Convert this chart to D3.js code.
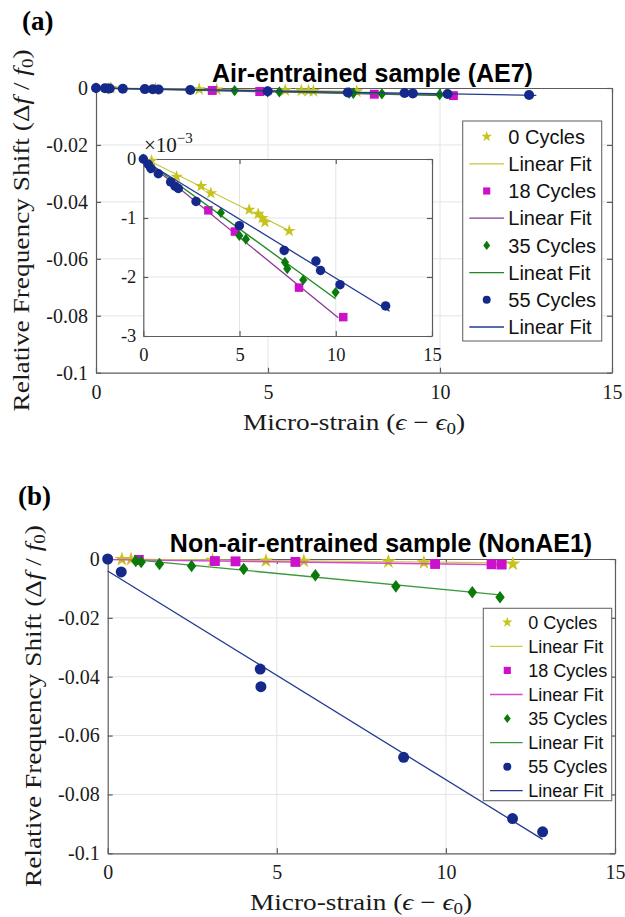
<!DOCTYPE html>
<html>
<head>
<meta charset="utf-8">
<script src="https://cdn.jsdelivr.net/npm/d3@7"></script>
<style>
  body { margin: 0; background: #fff; }
  svg { display: block; }
</style>
</head>
<body>
<svg id="fig" width="625" height="917"></svg>
<script>
// ---------- ticks ----------
const xTicks = [0, 5, 10, 15];
const yTicks = [0, -0.02, -0.04, -0.06, -0.08, -0.1];
const yTickLabels = ["0", "-0.02", "-0.04", "-0.06", "-0.08", "-0.1"];
const insetYTicks = [0, -1, -2, -3];
const insetYTickLabels = ["0", "-1", "-2", "-3"];

// ---------- (a) AE7, y values in units of 1e-3 ----------
const ae7Cyc0X  = [0.43, 1.73, 3.0, 3.51, 5.5, 5.97, 6.18, 6.32, 7.58];
const ae7Cyc0Y  = [-0.03, -0.30, -0.46, -0.58, -0.86, -0.93, -1.00, -1.07, -1.22];
const ae7Cyc18X = [3.38, 4.76, 8.09, 10.39];
const ae7Cyc18Y = [-0.87, -1.23, -2.18, -2.68];
const ae7Cyc35X = [0, 0.35, 4.03, 4.99, 5.33, 7.36, 7.48, 8.31, 9.99];
const ae7Cyc35Y = [0, -0.16, -0.91, -1.30, -1.36, -1.75, -1.86, -2.05, -2.26];
const ae7Cyc55X = [0, 0.26, 0.40, 0.78, 1.42, 1.65, 1.82, 2.74, 4.99, 7.32, 8.97, 9.21, 10.22, 12.59];
const ae7Cyc55Y = [0, -0.09, -0.16, -0.25, -0.39, -0.46, -0.50, -0.72, -1.13, -1.55, -1.73, -1.89, -2.13, -2.49];
// linear fits: [x start, x end, intercept, slope]
const ae7Fit0  = [0.1, 7.6, 0.02, -0.163];
const ae7Fit18 = [0, 10.13, 0, -0.2655];
const ae7Fit35 = [0, 9.99, 0, -0.237];
const ae7Fit55 = [0, 12.8, -0.02, -0.2];
const ae7Legend = ["0 Cycles", "Linear Fit", "18 Cycles", "Linear Fit", "35 Cycles", "Lineat Fit", "55 Cycles", "Linear Fit"];

// ---------- (b) NonAE1 ----------
const nonCyc0X  = [0.42, 0.69, 3.1, 4.68, 5.8, 8.3, 9.35, 11.98];
const nonCyc0Y  = [-0.0001, -0.0001, -0.0004, -0.0006, -0.0007, -0.0009, -0.0012, -0.0017];
const nonCyc18X = [0.92, 3.17, 3.78, 5.55, 9.68, 11.35, 11.65];
const nonCyc18Y = [-0.0003, -0.0007, -0.0008, -0.0010, -0.0017, -0.0018, -0.0019];
const nonCyc35X = [0.83, 0.99, 1.53, 2.48, 4.02, 6.14, 8.52, 10.78, 11.6];
const nonCyc35Y = [-0.0007, -0.0010, -0.0017, -0.0024, -0.0034, -0.0055, -0.0093, -0.0113, -0.0130];
const nonCyc55X = [0, 0.40, 4.51, 4.53, 8.75, 11.97, 12.86];
const nonCyc55Y = [0, -0.0044, -0.0374, -0.0434, -0.0674, -0.0882, -0.0927];
const nonFit0  = [0.42, 11.98, 0, -0.00011];
const nonFit18 = [0, 11.65, -0.0002, -0.00015];
const nonFit35 = [0.83, 11.6, 0.0006, -0.0011];
const nonFit55 = [0, 12.86, -0.0041, -0.00709];
const nonLegend = ["0 Cycles", "Linear Fit", "18 Cycles", "Linear Fit", "35 Cycles", "Linear Fit", "55 Cycles", "Linear Fit"];

const serif = "'Liberation Serif', 'Times New Roman', serif";
const sans = "'Liberation Sans', Arial, sans-serif";

const svg = d3.select("#fig");

const zip = (xs, ys) => xs.map((x, i) => ({ x: x, y: ys[i] }));

function markerPath(shape, s) {
    if (shape === "star") return d3.symbol(d3.symbolStar, s * s * 0.55)();
    if (shape === "square") return d3.symbol(d3.symbolSquare, s * s * 0.8)();
    if (shape === "diamond") {
        const w = s * 0.43, h = s * 0.57;
        return `M0,${-h}L${w},0L0,${h}L${-w},0Z`;
    }
    return d3.symbol(d3.symbolCircle, Math.PI * (s / 2) * (s / 2))();
}

function drawSeries(g, x, y, series, scaleY, size) {
    series.forEach(s => {
        const f = s.fit;
        const line = d3.line().x(d => x(d)).y(d => y((f[2] + f[3] * d) * scaleY));
        g.append("path")
            .datum([f[0], f[1]])
            .attr("fill", "none")
            .attr("stroke", s.lineColor)
            .attr("stroke-width", 1.3)
            .attr("d", line);
        g.selectAll(null)
            .data(zip(s.x, s.y))
            .enter()
            .append("path")
            .attr("transform", d => `translate(${x(d.x)},${y(d.y * scaleY)})`)
            .attr("d", markerPath(s.shape, size))
            .attr("fill", s.color);
    });
}

function drawAxes(g, x, y, xt, yt, ytl, fs, padX, padY) {
    const [x0, x1] = x.range(), [y0, y1] = y.range();
    g.append("rect")
        .attr("x", x0).attr("y", y1)
        .attr("width", x1 - x0).attr("height", y0 - y1)
        .attr("fill", "#fff");
    g.selectAll(null).data(xt.slice(1, -1)).enter().append("line")
        .attr("x1", d => x(d)).attr("x2", d => x(d))
        .attr("y1", y1).attr("y2", y0)
        .attr("stroke", "#e4e4e4").attr("stroke-width", 1);
    g.selectAll(null).data(yt.slice(1, -1)).enter().append("line")
        .attr("y1", d => y(d)).attr("y2", d => y(d))
        .attr("x1", x0).attr("x2", x1)
        .attr("stroke", "#e4e4e4").attr("stroke-width", 1);

    const style = a => {
        a.selectAll("path.domain").attr("stroke", "#5c5c5c").attr("stroke-width", 1.2);
        a.selectAll(".tick line").attr("stroke", "#5c5c5c").attr("stroke-width", 1.2);
        a.selectAll("text").attr("fill", "#1a1a1a");
        a.attr("font-family", serif).attr("font-size", fs);
    };
    g.append("g").attr("transform", `translate(0,${y0})`)
        .call(d3.axisBottom(x).tickValues(xt).tickSizeInner(-5).tickSizeOuter(0).tickPadding(padX).tickFormat(d3.format("d")))
        .call(style);
    g.append("g").attr("transform", `translate(0,${y1})`)
        .call(d3.axisTop(x).tickValues(xt).tickSizeInner(-5).tickSizeOuter(0).tickFormat(""))
        .call(style);
    g.append("g").attr("transform", `translate(${x0},0)`)
        .call(d3.axisLeft(y).tickValues(yt).tickSizeInner(-5).tickSizeOuter(0).tickPadding(padY).tickFormat((d, i) => ytl[i]))
        .call(style);
    g.append("g").attr("transform", `translate(${x1},0)`)
        .call(d3.axisRight(y).tickValues(yt).tickSizeInner(-5).tickSizeOuter(0).tickFormat(""))
        .call(style);
}

function drawLegend(g, box, rowH, labels, series, fs, symX, lineX0, lineX1, textX) {
    g.append("rect")
        .attr("x", box[0]).attr("y", box[1])
        .attr("width", box[2] - box[0]).attr("height", box[3] - box[1])
        .attr("fill", "#fff").attr("stroke", "#6a6a6a").attr("stroke-width", 1.1);
    labels.forEach((lab, i) => {
        const cy = box[1] + rowH * (i + 0.5) + 2;
        const s = series[Math.floor(i / 2)];
        if (i % 2 === 0) {
            g.append("path")
                .attr("transform", `translate(${symX},${cy})`)
                .attr("d", markerPath(s.shape, 8))
                .attr("fill", s.color);
        } else {
            g.append("line")
                .attr("x1", lineX0).attr("x2", lineX1)
                .attr("y1", cy).attr("y2", cy)
                .attr("stroke", s.lineColor).attr("stroke-width", 1.3);
        }
        g.append("text")
            .attr("x", textX).attr("y", cy)
            .attr("dy", "0.36em")
            .attr("font-family", sans).attr("font-size", fs)
            .attr("fill", "#111")
            .text(lab);
    });
}

function yLabel(g, cx, cy, len) {
    const t = g.append("text")
        .attr("transform", `translate(${cx},${cy}) rotate(-90)`)
        .attr("text-anchor", "middle")
        .attr("dy", "0.32em")
        .attr("font-family", serif).attr("font-size", 23)
        .attr("fill", "#1a1a1a")
        .attr("textLength", len).attr("lengthAdjust", "spacingAndGlyphs");
    t.append("tspan").text("Relative Frequency Shift (\u0394");
    t.append("tspan").attr("font-style", "italic").text("f");
    t.append("tspan").text(" / ");
    t.append("tspan").attr("font-style", "italic").text("f");
    t.append("tspan").attr("font-size", 16).attr("dy", 4).text("0");
    t.append("tspan").attr("dy", -4).text(")");
}

function xLabel(g, cx, by, len) {
    const t = g.append("text")
        .attr("x", cx).attr("y", by)
        .attr("text-anchor", "middle")
        .attr("font-family", serif).attr("font-size", 23)
        .attr("fill", "#1a1a1a")
        .attr("textLength", len).attr("lengthAdjust", "spacingAndGlyphs");
    t.append("tspan").text("Micro-strain (");
    t.append("tspan").attr("font-style", "italic").text("\u03f5");
    t.append("tspan").text(" \u2212 ");
    t.append("tspan").attr("font-style", "italic").text("\u03f5");
    t.append("tspan").attr("font-size", 16).attr("dy", 4).text("0");
    t.append("tspan").attr("dy", -4).text(")");
}

const colStar = "#c6c41c", colSq = "#cc10cc", colDia = "#0a7a0a", colCirc = "#15298a";

const ae7Series = [
    { shape: "star", color: colStar, lineColor: "#c8c640", x: ae7Cyc0X, y: ae7Cyc0Y, fit: ae7Fit0 },
    { shape: "square", color: colSq, lineColor: "#863a92", x: ae7Cyc18X, y: ae7Cyc18Y, fit: ae7Fit18 },
    { shape: "diamond", color: colDia, lineColor: "#1f881f", x: ae7Cyc35X, y: ae7Cyc35Y, fit: ae7Fit35 },
    { shape: "circle", color: colCirc, lineColor: "#223a92", x: ae7Cyc55X, y: ae7Cyc55Y, fit: ae7Fit55 }
];
const nonSeries = [
    { shape: "star", color: colStar, lineColor: "#cfcd48", x: nonCyc0X, y: nonCyc0Y, fit: nonFit0 },
    { shape: "square", color: colSq, lineColor: "#d448d4", x: nonCyc18X, y: nonCyc18Y, fit: nonFit18 },
    { shape: "diamond", color: colDia, lineColor: "#3a9a3a", x: nonCyc35X, y: nonCyc35Y, fit: nonFit35 },
    { shape: "circle", color: colCirc, lineColor: "#23398f", x: nonCyc55X, y: nonCyc55Y, fit: nonFit55 }
];

// ================= panel (a) =================
const ga = svg.append("g");
const xa = d3.scaleLinear().domain([0, 15]).range([96, 612]);
const ya = d3.scaleLinear().domain([-0.1, 0]).range([372.7, 88]);
drawAxes(ga, xa, ya, xTicks, yTicks, yTickLabels, 20, 12, 8);
drawSeries(ga, xa, ya, ae7Series, 1e-3, 10);

// inset
const xi = d3.scaleLinear().domain([0, 15]).range([143.3, 432]);
const yi = d3.scaleLinear().domain([-3, 0]).range([336, 159]);
drawAxes(ga, xi, yi, xTicks, insetYTicks, insetYTickLabels, 18.5, 12, 7);
drawSeries(ga, xi, yi, ae7Series, 1, 9.5);
const expo = ga.append("text")
    .attr("x", 144).attr("y", 152)
    .attr("font-family", serif).attr("font-size", 21).attr("fill", "#1a1a1a");
expo.append("tspan").text("\u00d710");
expo.append("tspan").attr("font-size", 15).attr("dy", -9).text("\u22123");

drawLegend(ga, [462.7, 121, 601.7, 341], 27.2, ae7Legend, ae7Series, 20, 486.7, 469.3, 504, 508.3);

ga.append("text").attr("x", 372.5).attr("y", 82)
    .attr("text-anchor", "middle")
    .attr("font-family", sans).attr("font-weight", "bold").attr("font-size", 25)
    .text("Air-entrained sample (AE7)");
ga.append("text").attr("x", 22).attr("y", 30)
    .attr("font-family", serif).attr("font-weight", "bold").attr("font-size", 27)
    .text("(a)");
yLabel(ga, 22, 230.4, 362);
xLabel(ga, 354, 429.5, 222);

// ================= panel (b) =================
const gb = svg.append("g");
const xb = d3.scaleLinear().domain([0, 15]).range([107.7, 615]);
const yb = d3.scaleLinear().domain([-0.1, 0]).range([853.3, 559]);
drawAxes(gb, xb, yb, xTicks, yTicks, yTickLabels, 20, 12, 8);
drawSeries(gb, xb, yb, nonSeries, 1, 11);
drawLegend(gb, [483.3, 608.3, 611.7, 800.7], 24.05, nonLegend, nonSeries, 18, 507.3, 490, 522.7, 528.3);

gb.append("text").attr("x", 381).attr("y", 551.7)
    .attr("text-anchor", "middle")
    .attr("font-family", sans).attr("font-weight", "bold").attr("font-size", 25)
    .text("Non-air-entrained sample (NonAE1)");
gb.append("text").attr("x", 18).attr("y", 505)
    .attr("font-family", serif).attr("font-weight", "bold").attr("font-size", 27)
    .text("(b)");
yLabel(gb, 34, 706, 362);
xLabel(gb, 361, 910, 222);
</script>
</body>
</html>
